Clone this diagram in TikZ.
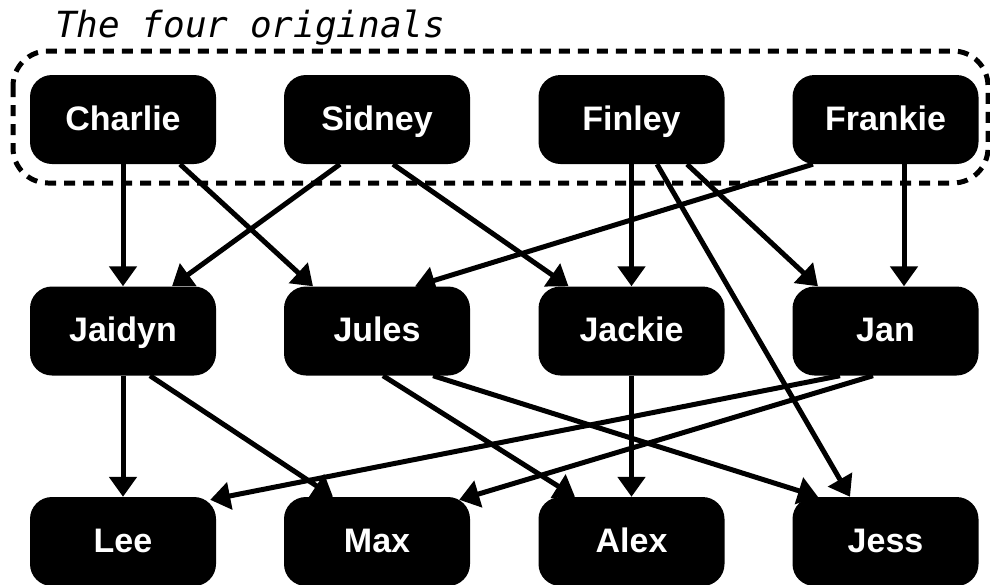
\documentclass[tikz,border=0pt]{standalone}
\usepackage{fontspec}
\setmainfont{Liberation Sans}
\setmonofont{DejaVu Sans Mono}
\usetikzlibrary{arrows.meta,calc}
\tikzset{
  person/.style={fill=black, rounded corners=22pt, minimum width=186pt, minimum height=89pt,
    inner sep=0pt, text=white, text height=25pt, text depth=4pt,
    font=\fontsize{34}{34}\selectfont\bfseries},
  edge/.style={line width=5pt, -{Triangle[length=20pt,width=27pt]}},
  group/.style={line width=5pt, dash pattern=on 11pt off 8pt, rounded corners=35pt},
  title/.style={anchor=base west, inner sep=0pt, font=\fontsize{36}{36}\selectfont\ttfamily\itshape}
}
\begin{document}
\begin{tikzpicture}[x=1pt,y=1pt]
\clip (0,0) rectangle (990,-584);
\fill[white] (0,0) rectangle (990,-584);
\node[title] (t) at (55,-37) {The four originals};
\draw[group] (13,-51) rectangle (988,-183);
% row 1
\node[person] (Charlie) at (123,-119.5) {Charlie};
\node[person] (Sidney) at (377,-119.5) {Sidney};
\node[person] (Finley) at (631.5,-119.5) {Finley};
\node[person] (Frankie) at (885.5,-119.5) {Frankie};
% row 2
\node[person] (Jaidyn) at (123,-331) {Jaidyn};
\node[person] (Jules) at (377,-331) {Jules};
\node[person] (Jackie) at (631.5,-331) {Jackie};
\node[person] (Jan) at (885.5,-331) {Jan};
% row 3
\node[person] (Lee) at (123,-541.5) {Lee};
\node[person] (Max) at (377,-541.5) {Max};
\node[person] (Alex) at (631.5,-541.5) {Alex};
\node[person] (Jess) at (885.5,-541.5) {Jess};
% edges row 1 -> row 2
\draw[edge] (Charlie.south) -- (Jaidyn.north);
\draw[edge] ([xshift=57pt]Charlie.south) -- ([xshift=-64pt]Jules.north);
\draw[edge] ([xshift=-37pt]Sidney.south) -- ([xshift=49pt]Jaidyn.north);
\draw[edge] ([xshift=16pt]Sidney.south) -- ([xshift=-63pt]Jackie.north);
\draw[edge] (Finley.south) -- (Jackie.north);
\draw[edge] ([xshift=55.5pt]Finley.south) -- ([xshift=-67.5pt]Jan.north);
\draw[edge] ([xshift=25.5pt]Finley.south) -- ([xshift=-35.5pt]Jess.north);
\draw[edge] ([xshift=-72.5pt]Frankie.south) -- ([xshift=38pt]Jules.north);
\draw[edge] ([xshift=18.5pt]Frankie.south) -- ([xshift=18.5pt]Jan.north);
% edges row 2 -> row 3
\draw[edge] (Jaidyn.south) -- (Lee.north);
\draw[edge] ([xshift=27pt]Jaidyn.south) -- ([xshift=-44pt]Max.north);
\draw[edge] ([xshift=6pt]Jules.south) -- ([xshift=-56.5pt]Alex.north);
\draw[edge] ([xshift=56pt]Jules.south) -- ([xshift=-67.5pt]Jess.north);
\draw[edge] (Jackie.south) -- (Alex.north);
\draw[edge] ([xshift=-45.5pt]Jan.south) -- ([shift={(-6pt,-3pt)}]Lee.north east);
\draw[edge] ([xshift=-12.5pt]Jan.south) -- ([shift={(-11pt,-3pt)}]Max.north east);
\end{tikzpicture}
\end{document}
